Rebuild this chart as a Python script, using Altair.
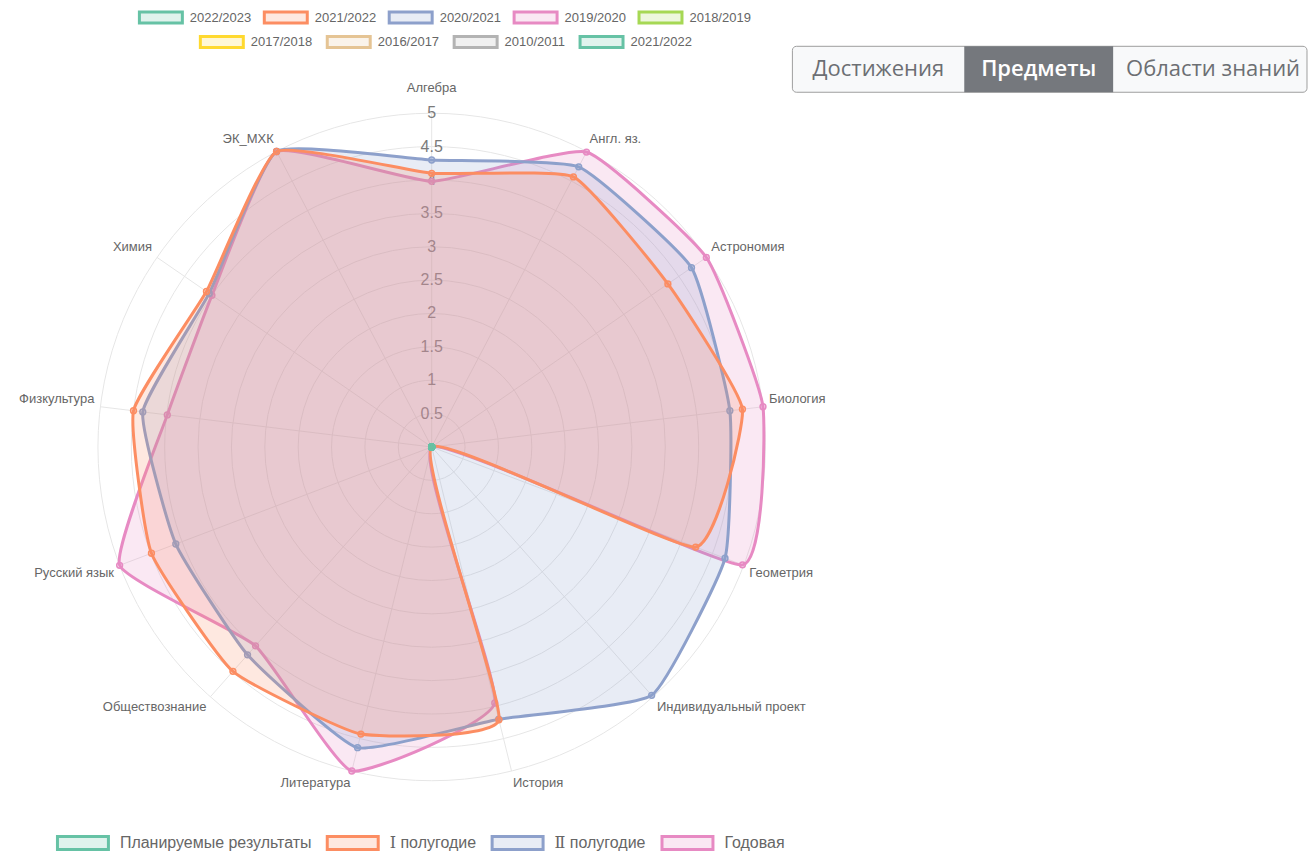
import math
import altair as alt
import pandas as pd

# ---------------- data ----------------
categories = ["Алгебра", "Англ. яз.", "Астрономия", "Биология", "Геометрия",
              "Индивидуальный проект", "История", "Литература", "Обществознание",
              "Русский язык", "Физкультура", "Химия", "ЭК_МХК"]
planned = [0, 0, 0, 0, 0, 0, 0, 0, 0, 0, 0, 0, 0]
first_half = [4.10, 4.57, 4.30, 4.69, 4.23, 0.00, 4.21, 4.43, 4.49, 4.49, 4.50, 4.10, 5.00]
second_half = [4.30, 4.74, 4.73, 4.50, 4.70, 4.97, 4.20, 4.64, 4.16, 4.10, 4.36, 4.05, 5.00]
annual = [3.98, 4.99, 5.00, 5.00, 4.98, 0.00, 3.95, 5.00, 3.98, 5.00, 3.99, 4.00, 5.00]

series_names = ["Планируемые результаты", "Ⅰ полугодие", "Ⅱ полугодие", "Годовая"]
series_colors = ["#66c2a5", "#fc8d62", "#8da0cb", "#e78ac3"]
series_fills = ["rgba(102,194,165,0.2)", "rgba(252,141,98,0.2)",
                "rgba(141,160,203,0.2)", "rgba(231,138,195,0.2)"]

years_row1 = ["2022/2023", "2021/2022", "2020/2021", "2019/2020", "2018/2019"]
years_row1_colors = ["#66c2a5", "#fc8d62", "#8da0cb", "#e78ac3", "#a6d854"]
years_row1_fills = ["rgba(102,194,165,0.2)", "rgba(252,141,98,0.2)", "rgba(141,160,203,0.2)",
                    "rgba(231,138,195,0.2)", "rgba(166,216,84,0.2)"]
years_row2 = ["2017/2018", "2016/2017", "2010/2011", "2021/2022"]
years_row2_colors = ["#ffd92f", "#e5c494", "#b3b3b3", "#66c2a5"]
years_row2_fills = ["rgba(255,217,47,0.2)", "rgba(229,196,148,0.2)",
                    "rgba(179,179,179,0.2)", "rgba(102,194,165,0.2)"]

tick_values = [0.5, 1, 1.5, 2, 2.5, 3, 3.5, 4, 4.5, 5]
tick_labels = ["0.5", "1", "1.5", "2", "2.5", "3", "3.5", "4", "4.5", "5"]

tab_labels = ["Достижения", "Предметы", "Области знаний"]
selected_tab = "Предметы"

# ---------------- geometry ----------------
N = len(categories)
R_MAX = 5
PX = 334 / R_MAX            # pixels per data unit
PLOT_W, PLOT_H = 1300, 852
CX, CY = 424, 439           # radar centre inside plot area
x_dom = [-CX / PX, (PLOT_W - CX) / PX]
y_dom = [-(PLOT_H - CY) / PX, CY / PX]
xs = alt.Scale(domain=x_dom, nice=False, zero=False)
ys = alt.Scale(domain=y_dom, nice=False, zero=False)
FONT = "Liberation Sans"
LEGEND_FONT = "Liberation Sans, DejaVu Serif"
LABEL_R = 5.09


def X(f):
    return alt.X(f"{f}:Q", scale=xs, axis=None)


def Y(f):
    return alt.Y(f"{f}:Q", scale=ys, axis=None)


ANG = f"datum.idx * 2 * PI / {N}"

rows = []
for name, vals in zip(series_names, [planned, first_half, second_half, annual]):
    for i, (c, v) in enumerate(zip(categories, vals)):
        rows.append({"series": name, "category": c, "idx": i, "value": v})
radar_df = pd.DataFrame(rows)
cat_df = pd.DataFrame({"category": categories, "idx": list(range(N))})
ring_df = pd.DataFrame({"ring": tick_values, "label": tick_labels})

# ---------------- grid ----------------
rings = alt.Chart(ring_df).transform_calculate(zero="0").mark_point(
    shape="circle", filled=False, stroke="#e6e6e6", strokeWidth=1, opacity=1
).encode(
    x=X("zero"), y=Y("zero"),
    size=alt.Size("ring:Q", scale=alt.Scale(type="pow", exponent=2, domain=[0, R_MAX],
                                            range=[0, (2 * R_MAX * PX) ** 2]), legend=None),
)

spokes = alt.Chart(cat_df).transform_calculate(
    ang=ANG, zero="0"
).transform_calculate(
    ex=f"{R_MAX} * sin(datum.ang)", ey=f"{R_MAX} * cos(datum.ang)"
).mark_rule(stroke="#e6e6e6", strokeWidth=1).encode(
    x=X("zero"), y=Y("zero"), x2="ex:Q", y2="ey:Q"
)

ticks = alt.Chart(ring_df).transform_calculate(zero="0").mark_text(
    font=FONT, fontSize=16, color="#7a7a7a", align="center", baseline="middle"
).encode(x=X("zero"), y=Y("ring"), text="label:N")

lab_base = alt.Chart(cat_df).transform_calculate(ang=ANG).transform_calculate(
    lx=f"{LABEL_R} * sin(datum.ang)", ly=f"{LABEL_R} * cos(datum.ang)"
)


def cat_labels(lo, hi, align, baseline, dy=0):
    return lab_base.transform_filter(
        f"datum.idx >= {lo} && datum.idx <= {hi}"
    ).mark_text(font=FONT, fontSize=13, color="#666666", align=align, baseline=baseline, dy=dy).encode(
        x=X("lx"), y=Y("ly"), text="category:N"
    )


labels = [
    cat_labels(0, 0, "center", "bottom", dy=-12),
    cat_labels(1, 3, "left", "bottom"),
    cat_labels(4, 6, "left", "top"),
    cat_labels(7, 9, "right", "top"),
    cat_labels(10, 12, "right", "bottom"),
]


# ---------------- legends ----------------
def box_legend(w, h, gap, colgap, fs, left, cy):
    pw, ph = w - 3, h - 3
    s = pw / 4.0
    half_h = (ph / 2) / (s / 2)
    path = f"M-4,-{half_h:.4f}H4V{half_h:.4f}H-4Z"
    D = max(math.ceil(s + 3), fs)
    sym_left = D / 2 - w / 2
    sym_right = D / 2 + w / 2
    return alt.Legend(
        orient="none", direction="horizontal", title=None, padding=0,
        symbolType=path, symbolSize=s * s, symbolStrokeWidth=3, symbolOpacity=1,
        labelFont=LEGEND_FONT, labelFontSize=fs, labelColor="#666666", labelLimit=0,
        labelOffset=sym_right + gap - D, columnPadding=colgap - 5,
        legendX=left - 8 - sym_left, legendY=cy - 8 - D / 2,
    )


series_legend = box_legend(54, 16, 10, 14, 16, 56, 843)
row1_legend = box_legend(46, 14, 6, 11, 13, 138, 17)
row2_legend = box_legend(46, 14, 6, 13, 13, 199, 41.5)

stroke_enc = alt.Stroke("series:N", scale=alt.Scale(domain=series_names, range=series_colors),
                        legend=series_legend)
fill_enc = alt.Fill("series:N", scale=alt.Scale(domain=series_names, range=series_fills),
                    legend=series_legend)

radar_base = alt.Chart(radar_df).transform_calculate(ang=ANG).transform_calculate(
    px="datum.value * sin(datum.ang)", py="datum.value * cos(datum.ang)"
)


def series_layers(name):
    b = radar_base.transform_filter(alt.datum.series == name)
    line = b.mark_line(interpolate="cardinal-closed", tension=0.6, strokeWidth=3).encode(
        x=X("px"), y=Y("py"), order=alt.Order("idx:Q"), stroke=stroke_enc, fill=fill_enc
    )
    pts = b.mark_point(shape="circle", size=34, strokeWidth=1.5, opacity=1).encode(
        x=X("px"), y=Y("py"), stroke=stroke_enc, fill=fill_enc
    )
    return [line, pts]


series = alt.layer(*(series_layers(series_names[3]) + series_layers(series_names[2])
                     + series_layers(series_names[1]) + series_layers(series_names[0])))


def year_dummy(years, colors, fills, legend):
    return alt.Chart(pd.DataFrame({"year": years})).transform_filter("false").transform_calculate(
        zero="0"
    ).mark_point(shape="circle", size=10).encode(
        x=X("zero"), y=Y("zero"),
        stroke=alt.Stroke("year:N", scale=alt.Scale(domain=years, range=colors), legend=legend),
        fill=alt.Fill("year:N", scale=alt.Scale(domain=years, range=fills), legend=legend),
    )


year1 = year_dummy(years_row1, years_row1_colors, years_row1_fills, row1_legend)
year2 = year_dummy(years_row2, years_row2_colors, years_row2_fills, row2_legend)

# ---------------- tab buttons (UI decoration) ----------------
tab_df = pd.DataFrame({"tab": tab_labels})
tab_bg = alt.Chart(tab_df).transform_filter(alt.datum.tab == selected_tab).mark_rect(
    fill="#f8f9fa", stroke="#9e9e9e", strokeWidth=1, cornerRadius=4
).encode(x=alt.value(785), x2=alt.value(1300), y=alt.value(38), y2=alt.value(84))
tab_sel = alt.Chart(tab_df).transform_filter(alt.datum.tab == selected_tab).mark_rect(
    fill="#75787d"
).encode(x=alt.value(957), x2=alt.value(1106), y=alt.value(38), y2=alt.value(84))
tab_centers = [871, 1031.5, 1206]
tab_texts = []
for t, cxp in zip(tab_labels, tab_centers):
    sel = t == selected_tab
    tab_texts.append(
        alt.Chart(tab_df).transform_filter(alt.datum.tab == t).mark_text(
            font="Open Sans", fontSize=22, fontWeight=600 if sel else 500,
            color="#ffffff" if sel else "#6c6f73", align="center", baseline="middle"
        ).encode(x=alt.value(cxp), y=alt.value(61), text="tab:N")
    )

chart = alt.layer(
    rings, spokes, ticks, *labels, year1, year2, series, tab_bg, tab_sel, *tab_texts
).resolve_scale(
    fill="independent", stroke="independent"
).properties(
    width=PLOT_W, height=PLOT_H, padding=0, background="white"
).configure_view(stroke=None)

chart.save("out.html", embed_options={"renderer": "svg", "actions": False})
